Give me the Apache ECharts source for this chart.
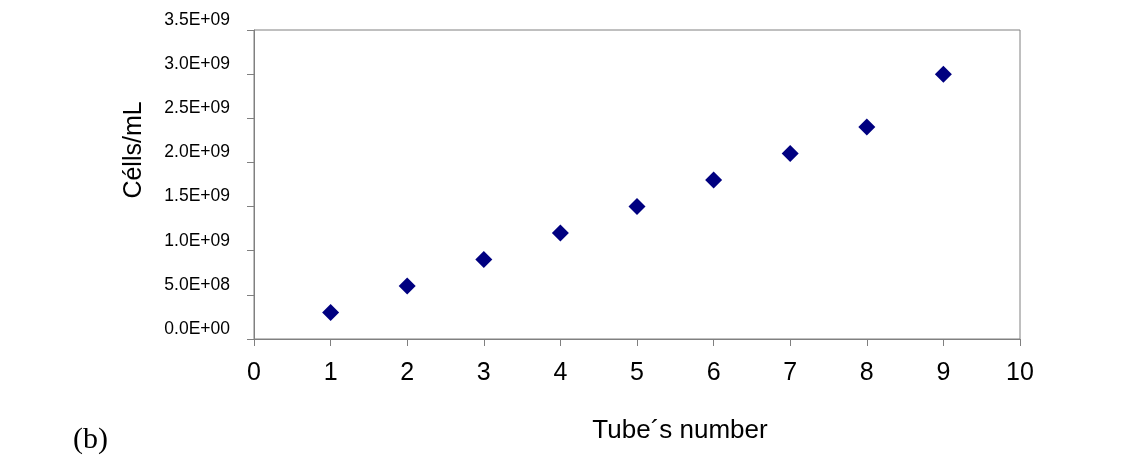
<!DOCTYPE html>
<html>
<head>
<meta charset="utf-8">
<script src="https://cdn.jsdelivr.net/npm/echarts@6/dist/echarts.min.js"></script>
<style>
    html, body { margin: 0; padding: 0; background: #fff; }
    #myChart { width: 1140px; height: 459px; }
</style>
</head>
<body>
<div id="myChart"></div>
<script>
// tube number vs cells/mL
var tubes = [1, 2, 3, 4, 5, 6, 7, 8, 9];
var cells = [3.0e8, 6.0e8, 9.0e8, 1.2e9, 1.5e9, 1.8e9, 2.1e9, 2.4e9, 3.0e9];
var yTicks = ['0.0E+00', '5.0E+08', '1.0E+09', '1.5E+09', '2.0E+09', '2.5E+09', '3.0E+09', '3.5E+09'];

var points = [];
for (var i = 0; i < tubes.length; i++) {
    points.push([tubes[i], cells[i]]);
}

var myChart = echarts.init(document.getElementById('myChart'));
var option = {
    animation: false,
    backgroundColor: '#fff',
    grid: {
        left: 254,
        right: 120,
        top: 30,
        bottom: 120,
        show: true,
        borderColor: '#808080',
        borderWidth: 1
    },
    xAxis: {
        type: 'value',
        min: 0,
        max: 10,
        interval: 1,
        splitLine: { show: false },
        axisLine: { lineStyle: { color: '#808080', width: 1 } },
        axisTick: { show: true, length: 7, lineStyle: { color: '#808080' } },
        axisLabel: {
            color: '#000',
            fontFamily: 'Liberation Sans',
            fontSize: 25,
            margin: 22
        }
    },
    yAxis: {
        type: 'value',
        min: 0,
        max: 3.5e9,
        interval: 5e8,
        splitLine: { show: false },
        axisLine: { show: true, lineStyle: { color: '#808080', width: 1 } },
        axisTick: { show: true, length: 7, lineStyle: { color: '#808080' } },
        axisLabel: {
            color: '#000',
            fontFamily: 'Liberation Sans',
            fontSize: 17.5,
            margin: 24,
            verticalAlign: 'bottom',
            lineHeight: 20,
            formatter: function (v) {
                return yTicks[Math.round(v / 5e8)];
            }
        }
    },
    graphic: [
        {
            type: 'text',
            x: 134,
            y: 150,
            rotation: Math.PI / 2,
            style: {
                text: 'Célls/mL',
                fill: '#000',
                font: '25px "Liberation Sans"',
                align: 'center',
                verticalAlign: 'middle'
            }
        },
        {
            type: 'text',
            x: 680,
            y: 431,
            style: {
                text: 'Tube´s number',
                fill: '#000',
                font: '26px "Liberation Sans"',
                align: 'center',
                verticalAlign: 'middle'
            }
        },
        {
            type: 'text',
            x: 73,
            y: 440,
            style: {
                text: '(b)',
                fill: '#000',
                font: '30px "Liberation Serif"',
                align: 'left',
                verticalAlign: 'middle'
            }
        }
    ],
    series: [
        {
            type: 'scatter',
            data: points,
            symbol: 'diamond',
            symbolSize: [17, 17],
            itemStyle: { color: '#000080', opacity: 1 }
        }
    ]
};
myChart.setOption(option);
</script>
</body>
</html>
